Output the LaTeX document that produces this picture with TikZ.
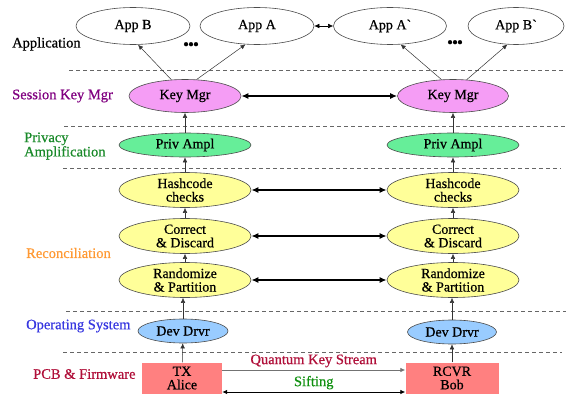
\documentclass[tikz,border=0pt]{standalone}
\usepackage{fontspec}
\setmainfont{Liberation Serif}[FakeBold=0.6]
\newfontfamily\plainserif{Liberation Serif}[FakeBold=0.6]
\usetikzlibrary{shapes.geometric,arrows.meta}
\definecolor{kmfill}{HTML}{F59DF5}
\definecolor{pafill}{HTML}{66EE99}
\definecolor{yfill}{HTML}{FFFF99}
\definecolor{ddfill}{HTML}{99CCFF}
\definecolor{boxfill}{HTML}{FF8080}
\definecolor{purp}{HTML}{800080}
\definecolor{grn}{HTML}{1A8A2A}
\definecolor{orng}{HTML}{FF9933}
\definecolor{blu}{HTML}{3838E0}
\definecolor{crim}{HTML}{B0103A}
\definecolor{sgrn}{HTML}{109010}
\tikzset{
  ell/.style={ellipse,draw=black!70,line width=0.6pt,inner sep=0pt,align=center,font=\fontsize{14}{13.5}\selectfont},
  appnode/.style={ell,fill=white,minimum height=37pt},
  kmnode/.style={ell,fill=kmfill,minimum width=112pt,minimum height=33pt},
  panode/.style={ell,fill=pafill,minimum width=132pt,minimum height=24pt},
  ynode/.style={ell,fill=yfill,minimum width=132pt,minimum height=35pt},
  ddnode/.style={ell,fill=ddfill,minimum width=90pt,minimum height=24pt},
  boxnode/.style={rectangle,fill=boxfill,inner sep=0pt,align=center,minimum height=31pt,font=\fontsize{14}{13.5}\selectfont},
  layerlab/.style={font=\fontsize{14.5}{13}\selectfont,inner sep=0pt,align=left},
  sep/.style={dashed,dash pattern=on 4pt off 3pt,draw=black!60,line width=0.7pt},
  up/.style={-{Latex[length=5pt,width=4.5pt]},line width=0.5pt,draw=black!80},
  thin2/.style={{Latex[length=5pt,width=4.5pt]}-{Latex[length=5pt,width=4.5pt]},line width=0.5pt},
  thick2/.style={{Latex[length=7pt,width=6pt]}-{Latex[length=7pt,width=6pt]},line width=1.6pt},
  dots/.style={font=\fontsize{17}{17}\selectfont,inner sep=0pt}
}
\begin{document}
\begin{tikzpicture}[x=1pt,y=-1pt]
\useasboundingbox (0,0) rectangle (584,396);
% separators
\draw[sep] (69,70) -- (565,70);
\draw[sep] (64,126) -- (565,126);
\draw[sep] (63,168) -- (561,168);
\draw[sep] (66,311) -- (566,311);
\draw[sep] (63,352) -- (562,352);
% layer labels
\node[layerlab,anchor=west] (lapp) at (12,44) {Application};
\node[layerlab,anchor=west,text=purp] (lskm) at (12,96) {Session Key Mgr};
\node[layerlab,anchor=west,text=grn] (lpa) at (24,146) {Privacy\\Amplification};
\node[layerlab,anchor=west,text=orng] (lrec) at (26,253) {Reconciliation};
\node[layerlab,anchor=west,text=blu] (los) at (26,326) {Operating System};
\node[layerlab,anchor=west,text=crim] (lpcb) at (33,374) {PCB \& Firmware};
% apps
\node[appnode,minimum width=114pt] (appB) at (133,26) {App B};
\node[appnode,minimum width=114pt] (appA) at (257,26) {App A};
\node[appnode,minimum width=113pt] (appAp) at (390,26) {\plainserif App A`};
\node[appnode,minimum width=96pt] (appBp) at (516,26) {\plainserif App B`};
\node[dots] (dotsL) at (191,46) {\textbullet\kern-1pt\textbullet\kern-1pt\textbullet};
\node[dots] (dotsR) at (455,44) {\textbullet\kern-1pt\textbullet\kern-1pt\textbullet};
% left column
\node[kmnode] (kmL) at (185,96) {Key Mgr};
\node[panode] (paL) at (185,145) {Priv Ampl};
\node[ynode] (hcL) at (185,190) {Hashcode\\checks};
\node[ynode] (cdL) at (185,236) {Correct\\\& Discard};
\node[ynode] (rpL) at (185,280) {Randomize\\\& Partition};
\node[ddnode] (ddL) at (183,331) {Dev Drvr};
\node[boxnode,minimum width=80pt] (tx) at (182,378) {TX\\Alice};
% right column
\node[kmnode,minimum width=111pt] (kmR) at (453,96) {Key Mgr};
\node[panode] (paR) at (453,145) {Priv Ampl};
\node[ynode] (hcR) at (453,190) {Hashcode\\checks};
\node[ynode] (cdR) at (453,236) {Correct\\\& Discard};
\node[ynode] (rpR) at (453,280) {Randomize\\\& Partition};
\node[ddnode,minimum width=89pt] (ddR) at (452,332) {Dev Drvr};
\node[boxnode,minimum width=93pt] (rcvr) at (452,378) {RCVR\\Bob};
% app arrows
\draw[up] (kmL.130) -- (appB.285);
\draw[up] (kmL.55) -- (appA.238);
\draw[up] (kmR.125) -- (appAp.300);
\draw[up] (kmR.50) -- (appBp.245);
\draw[thin2] (appA.east) -- (appAp.west);
% vertical arrows
\draw[up] (paL) -- (kmL);
\draw[up] (hcL) -- (paL);
\draw[up] (cdL) -- (hcL);
\draw[up] (rpL) -- (cdL);
\draw[up] (ddL.north) -- (rpL.south -| ddL.north);
\draw[up] (tx) -- (ddL);
\draw[up] (paR) -- (kmR);
\draw[up] (hcR) -- (paR);
\draw[up] (cdR) -- (hcR);
\draw[up] (rpR) -- (cdR);
\draw[up] (ddR.north) -- (rpR.south -| ddR.north);
\draw[up] (rcvr) -- (ddR);
% horizontal thick arrows
\draw[thick2] (kmL) -- (kmR);
\draw[thick2] (hcL) -- (hcR);
\draw[thick2] (cdL) -- (cdR);
\draw[thick2] (rpL) -- (rpR);
% bottom arrows
\draw[-{Latex[length=5pt,width=4.5pt]},line width=0.8pt,draw=black!55] (tx.east |- 0,370) -- node[above=-1pt,text=crim,font=\fontsize{14.5}{12}\selectfont] (qks) {Quantum Key Stream} (rcvr.west |- 0,370);
\draw[thin2,line width=0.8pt] (tx.east |- 0,392) -- node[above=-1pt,text=sgrn,font=\fontsize{14.5}{12}\selectfont] (sift) {Sifting} (rcvr.west |- 0,392);
\end{tikzpicture}
\end{document}
